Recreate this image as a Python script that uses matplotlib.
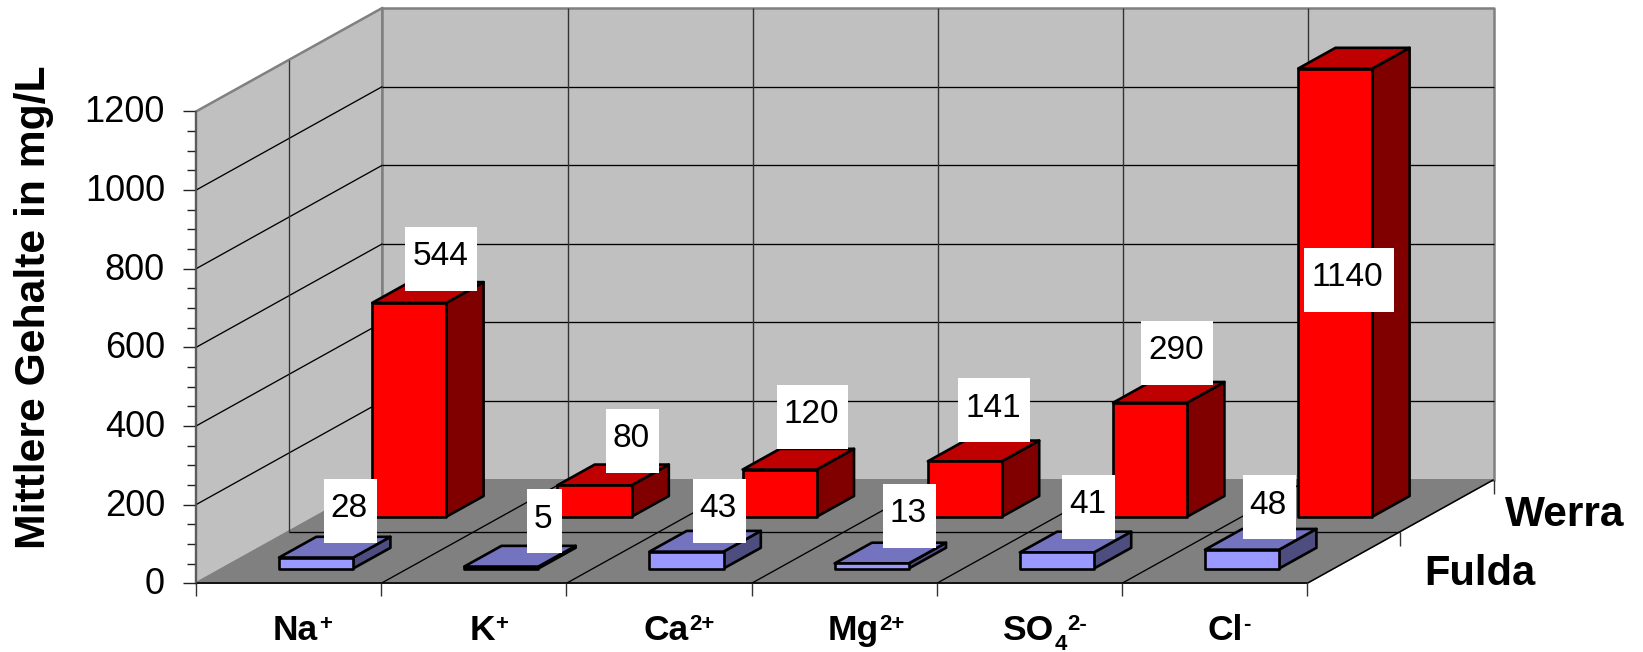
import numpy as np
import matplotlib
matplotlib.use("Agg")
import matplotlib.pyplot as plt
from matplotlib.patches import Polygon, Rectangle

plt.rcParams['font.family'] = ['Liberation Sans', 'DejaVu Sans']

# Daten
categories = [[("Na", 0), ("+", 1)],
              [("K", 0), ("+", 1)],
              [("Ca", 0), ("2+", 1)],
              [("Mg", 0), ("2+", 1)],
              [("SO", 0), ("4", -1), ("2-", 1)],
              [("Cl", 0), ("-", 1)]]
series_names = ["Fulda", "Werra"]
fulda = [28, 5, 43, 13, 41, 48]
werra = [544, 80, 120, 141, 290, 1140]
y_ticks = [0, 200, 400, 600, 800, 1000, 1200]
y_minor = [50, 100, 150, 250, 300, 350, 450, 500, 550, 650, 700, 750,
           850, 900, 950, 1050, 1100, 1150]

# Schraegprojektion: Kategorie, Tiefe, Wert -> Pixel
x0, y0 = 196.0, 583.3
cat_w = 185.2
depth_x, depth_y = 93.2, 51.8
val_scale = 471.8 / 1200


def project(cat, depth, val):
    return (x0 + cat * cat_w + depth * depth_x,
            y0 - depth * depth_y - val * val_scale)


# Versatz der Wertebeschriftungen gegenueber der Saeulenmitte (Pixel)
fulda_off = [(15.3, -35.4), (24, -34.4), (13.9, -29.5), (18.7, -36.3), (12.5, -34.3), (8.3, -31.5)]
werra_off = [(12.6, -33), (18.9, -33.4), (13.7, -41.6), (10, -40), (7.8, -38.8), (-5.4, 222.4)]
cat_label_off = [13.8, 15.2, 20.5, 22.3, 15.3, 14.4]

red = ("#FF0000", "#BF0000", "#800000")
blue = ("#9999FF", "#7373BF", "#4D4D80")

fig = plt.figure(figsize=(16.43, 6.52), dpi=100)
ax = fig.add_axes([0, 0, 1, 1])
ax.set_xlim(0, 1643)
ax.set_ylim(652, 0)
ax.axis("off")

n = len(fulda)
top = y_ticks[-1]


def face(points, color, ec, lw, z=1):
    ax.add_patch(Polygon(points, closed=True, facecolor=color, edgecolor=ec,
                         linewidth=lw, joinstyle="round", zorder=z))


def line(p, q, color="black", lw=0.95, z=2):
    ax.plot([p[0], q[0]], [p[1], q[1]], color=color, lw=lw, zorder=z,
            solid_capstyle="butt")


# Waende und Boden
face([project(0, 0, 0), project(0, 0, top), project(0, 2, top), project(0, 2, 0)],
     "#C0C0C0", "#808080", 1.8)
face([project(0, 2, 0), project(0, 2, top), project(n, 2, top), project(n, 2, 0)],
     "#C0C0C0", "#808080", 1.8)
face([project(0, 0, 0), project(n, 0, 0), project(n, 2, 0), project(0, 2, 0)],
     "#808080", "#808080", 1.0)

# Gitternetz
for v in y_ticks[1:-1]:
    line(project(0, 0, v), project(0, 2, v))
    line(project(0, 2, v), project(n, 2, v))
line(project(0, 1, 0), project(0, 1, top), lw=0.95, color="#333333")
line(project(0, 1, 0), project(n, 1, 0))
for c in range(1, n):
    line(project(c, 0, 0), project(c, 2, 0))
    line(project(c, 2, 0), project(c, 2, top), lw=1.0, color="#333333")
line(project(0, 0, 0), project(n, 0, 0), lw=1.2)
line(project(n, 0, 0), project(n, 2, 0), lw=1.1)

# Achsenstriche
for v in y_ticks:
    x, y = project(0, 0, v)
    line((x - 13, y), (x, y), color="#222222", lw=1.0)
    ax.text(165, y + 1.5, str(v), ha="right", va="center", fontsize=26, color="black")
for v in y_minor:
    x, y = project(0, 0, v)
    line((x - 9, y), (x, y), color="#222222", lw=1.0)
line(project(0, 0, 0), project(0, 0, top), color="#555555", lw=1.2, z=3)
for c in range(n + 1):
    x, y = project(c, 0, 0)
    line((x, y), (x, y + 13), color="#333333", lw=1.0)
for d in (1, 2):
    x, y = project(n, d, 0)
    line((x, y), (x, y + 14), color="#333333", lw=1.0)

# Saeulen
bar_w = 0.40
bar_d = 0.40
cat_gap = 0.305
depth_gap = 0.285


def draw_bar(c, s, val, colors):
    a, b = c + cat_gap, c + cat_gap + bar_w
    d1, d2 = s + depth_gap, s + depth_gap + bar_d
    ec, lw = "black", 1.9
    face([project(b, d1, 0), project(b, d2, 0), project(b, d2, val), project(b, d1, val)],
         colors[2], ec, lw, z=4)
    face([project(a, d1, val), project(b, d1, val), project(b, d2, val), project(a, d2, val)],
         colors[1], ec, lw, z=4)
    face([project(a, d1, 0), project(b, d1, 0), project(b, d1, val), project(a, d1, val)],
         colors[0], ec, lw, z=4)


for c, val in enumerate(werra):
    draw_bar(c, 1, val, red)
for c, val in enumerate(fulda):
    draw_bar(c, 0, val, blue)


# Wertebeschriftung in weissen Kaestchen
def value_label(c, s, val, off):
    x, y = project(c + 0.5, s + 0.5, val)
    x, y = x + off[0], y + off[1]
    txt = str(val)
    w = len(txt) * 18.0 + 17.5
    h = 64
    ax.add_patch(Rectangle((x - w / 2, y - h / 2), w, h, facecolor="white",
                           edgecolor="none", zorder=6))
    ax.text(x - w / 2 + 7, y - 2, txt, ha="left", va="center", fontsize=24,
            color="black", zorder=7)


for c, val in enumerate(werra):
    value_label(c, 1, val, werra_off[c])
for c, val in enumerate(fulda):
    value_label(c, 0, val, fulda_off[c])

# Kategorien mit Hoch- und Tiefstellung
renderer = fig.canvas.get_renderer()


def cat_label(parts, xc, base):
    items = []
    for txt, pos in parts:
        size = 25.5 if pos == 0 else 16
        shift = {0: 0, 1: -10, -1: 10}[pos]
        items.append(ax.text(0, base + shift, txt, fontsize=size, fontweight="bold",
                             ha="left", va="baseline", color="black"))
    widths = [t.get_window_extent(renderer).width for t in items]
    advance = [t.get_fontsize() * 100 / 72 * 0.02 + w for t, w in zip(items, widths)]
    x = xc - sum(advance) / 2
    for t, a in zip(items, advance):
        t.set_x(x)
        x += a


for c, parts in enumerate(categories):
    cat_label(parts, project(c + 0.5, 0, 0)[0] + cat_label_off[c], 640)

# Reihenbeschriftung und Achsentitel
ax.text(1424, 585.4, series_names[0], fontsize=30, fontweight="bold", ha="left", va="baseline")
ax.text(1505, 526, series_names[1], fontsize=30.5, fontweight="bold", ha="left", va="baseline")
ax.text(34, 307, "Mittlere Gehalte in mg/L", rotation=90, fontsize=30.7,
        fontweight="bold", ha="center", va="center")

fig.savefig("out.png", dpi=100)
